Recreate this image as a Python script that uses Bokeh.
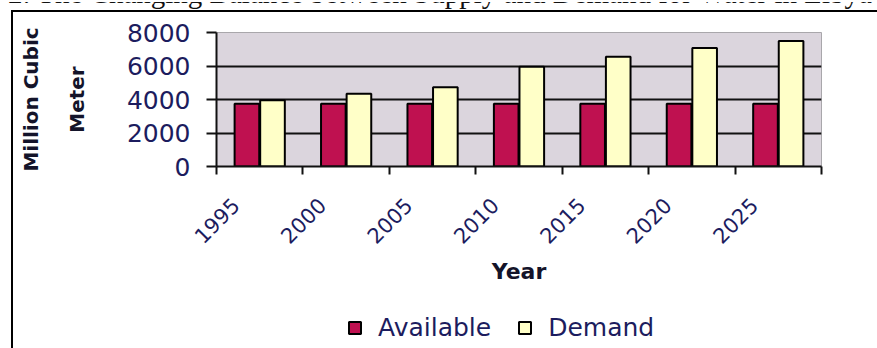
import numpy as np
from bokeh.plotting import figure
from bokeh.layouts import column
from bokeh.models import (Range1d, FixedTicker, Legend, LegendItem, LinearAxis,
                          ColumnDataSource, Div)
from bokeh.embed import file_html
from bokeh.resources import INLINE

# Water balance, million cubic metres
years = ["1995", "2000", "2005", "2010", "2015", "2020", "2025"]
available = [3750, 3750, 3750, 3750, 3750, 3750, 3750]
demand = [3950, 4350, 4730, 5950, 6550, 7070, 7500]
y_ticks = [0, 2000, 4000, 6000, 8000]
series = ["Available", "Demand"]
caption = "Figure 2: The Changing Balance between Supply and Demand for Water in Libya"

W, H = 877, 348
CAP_H = 10                      # strip holding the (cut) caption line
LEG_H = 48                      # strip holding the legend
PH = H - CAP_H - LEG_H
F_LEFT, F_RIGHT, F_TOP, F_BOTTOM = 216, 821, 22, 156

AVAIL_COLOR = "#bf1150"
DEMAND_COLOR = "#ffffc8"
TEXT_NAVY = "#1c1c5e"
TEXT_DARK = "#14142a"
FONT = "DejaVu Sans"

BOX_LEFT = {
    "background-image": "linear-gradient(#000, #000)",
    "background-size": "2px 100%",
    "background-position": "11px 0px",
    "background-repeat": "no-repeat",
    "background-color": "white",
}
BOX_LEFT_TOP = {
    "background-image": "linear-gradient(#000, #000), linear-gradient(#000, #000)",
    "background-size": "2px 100%, 100% 2px",
    "background-position": "11px 0px, 11px 0px",
    "background-repeat": "no-repeat",
    "background-color": "white",
}

idx = np.arange(len(years))
src = ColumnDataSource(dict(
    xa=idx + 0.5 - 0.148, xd=idx + 0.5 + 0.148,
    available=available, demand=demand))

p = figure(width=W, height=PH, output_backend="svg", toolbar_location=None,
           x_range=Range1d(0, len(years)), y_range=Range1d(0, 8000),
           min_border_left=F_LEFT, min_border_right=W - F_RIGHT,
           min_border_top=F_TOP, min_border_bottom=PH - F_BOTTOM)
p.background_fill_color = "#dbd5dd"
p.border_fill_color = None
p.outline_line_color = "#a9a7ab"
p.outline_line_width = 1
p.styles = BOX_LEFT_TOP

bar_style = dict(width=0.285, line_color="black", line_width=2)
ra = p.vbar(x="xa", top="available", source=src, fill_color=AVAIL_COLOR, **bar_style)
rd = p.vbar(x="xd", top="demand", source=src, fill_color=DEMAND_COLOR, **bar_style)

# grid
p.xgrid.visible = False
p.ygrid.ticker = FixedTicker(ticks=y_ticks[1:-1])
p.ygrid.grid_line_color = "#111111"
p.ygrid.grid_line_width = 2
p.ygrid.level = "underlay"

# y axis; its title is split over two axis labels
ya = p.yaxis[0]
ya.ticker = FixedTicker(ticks=y_ticks)
ya.axis_line_color = "#111111"
ya.axis_line_width = 2
ya.major_tick_line_color = "#111111"
ya.major_tick_line_width = 2
ya.major_tick_out = 10
ya.major_tick_in = 0
ya.minor_tick_line_color = None
ya.major_label_text_font = FONT
ya.major_label_text_font_size = "25px"
ya.major_label_text_color = TEXT_NAVY
ya.major_label_standoff = 16

title_style = dict(axis_label_text_font=FONT, axis_label_text_font_size="20px",
                   axis_label_text_font_style="bold", axis_label_text_color=TEXT_DARK)
ya.axis_label = "Meter"
ya.axis_label_standoff = 35
for k, v in title_style.items():
    setattr(ya, k, v)

outer = LinearAxis(ticker=FixedTicker(ticks=[]), axis_line_color=None,
                   major_tick_out=0, major_tick_in=0, minor_tick_out=0, minor_tick_in=0,
                   major_label_standoff=0, axis_label="Million Cubic",
                   axis_label_standoff=19, **title_style)
p.add_layout(outer, "left")

# x axis: year labels near the category centres, tick marks on the boundaries
xa = p.xaxis[0]
label_pos = [i + 0.5 - 0.28 for i in range(len(years))]
xa.ticker = FixedTicker(ticks=label_pos, minor_ticks=list(range(len(years) + 1)))
xa.major_label_overrides = {pos: y for pos, y in zip(label_pos, years)}
xa.major_label_orientation = np.pi / 4
xa.major_tick_line_color = None
xa.major_tick_out = 0
xa.major_tick_in = 0
xa.minor_tick_line_color = "#111111"
xa.minor_tick_line_width = 2
xa.minor_tick_out = 8
xa.minor_tick_in = 0
xa.axis_line_color = "#111111"
xa.axis_line_width = 2
xa.major_label_text_font = FONT
xa.major_label_text_font_size = "21px"
xa.major_label_text_color = TEXT_NAVY
xa.major_label_standoff = 27
xa.axis_label = "Year"
xa.axis_label_text_font = FONT
xa.axis_label_text_font_size = "22px"
xa.axis_label_text_font_style = "bold"
xa.axis_label_text_color = TEXT_DARK
xa.axis_label_standoff = 5

# legend strip under the chart; its renderers only lend their style to the keys
lf = figure(width=W, height=LEG_H, output_backend="svg", toolbar_location=None,
            x_range=Range1d(0, len(years)), y_range=Range1d(0, 8000),
            min_border_left=F_LEFT, min_border_right=W - F_RIGHT,
            min_border_top=0, min_border_bottom=0)
lf.axis.visible = False
lf.grid.visible = False
lf.outline_line_color = None
lf.background_fill_color = None
lf.border_fill_color = None
lf.styles = BOX_LEFT
la = lf.vbar(x="xa", top="available", source=src, fill_color=AVAIL_COLOR,
             visible=False, **bar_style)
ld = lf.vbar(x="xd", top="demand", source=src, fill_color=DEMAND_COLOR,
             visible=False, **bar_style)
legend = Legend(items=[LegendItem(label=series[0], renderers=[la]),
                       LegendItem(label=series[1], renderers=[ld])],
                orientation="horizontal", location=(347 - F_LEFT, 6),
                click_policy="none",
                background_fill_alpha=0, border_line_color=None,
                label_text_font=FONT, label_text_font_size="25px",
                label_text_color=TEXT_NAVY,
                glyph_width=15, glyph_height=15, label_standoff=16,
                spacing=26, padding=0, margin=0)
lf.add_layout(legend, "center")

# caption line of the page, only its lower edge shows above the box
cap = Div(text=('<div style="position:relative;height:10px;width:877px;overflow:hidden;">'
                '<div style="position:absolute;left:-75px;top:-23px;white-space:nowrap;'
                "font-family:'Liberation Serif';font-size:29px;line-height:29px;color:#111;\">"
                f'{caption}</div></div>'),
          width=W, height=CAP_H, margin=0)

layout = column(cap, p, lf, spacing=0)

open("out.html", "w").write(file_html(layout, INLINE))
